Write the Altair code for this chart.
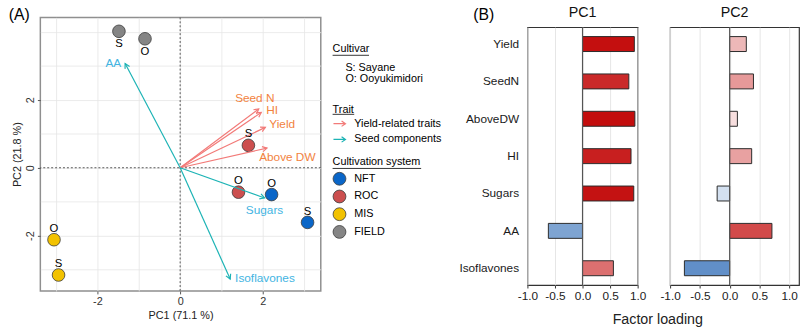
import altair as alt
import pandas as pd

# ---------------- Panel A : PCA biplot ----------------
sample_system = ["FIELD", "FIELD", "ROC", "ROC", "NFT", "NFT", "MIS", "MIS"]
sample_cultivar = ["S", "O", "S", "O", "O", "S", "O", "S"]
sample_pc1 = [-1.48, -0.85, 1.65, 1.41, 2.21, 3.08, -3.05, -2.94]
sample_pc2 = [4.02, 3.80, 0.66, -0.72, -0.79, -1.61, -2.12, -3.16]

trait_names = ["AA", "Seed N", "HI", "Yield", "Above DW", "Sugars", "Isoflavones"]
trait_group = ["Seed components", "Yield-related traits", "Yield-related traits",
               "Yield-related traits", "Yield-related traits", "Seed components",
               "Seed components"]
trait_pc1 = [-1.33, 1.90, 1.96, 2.06, 2.10, 2.04, 1.21]
trait_pc2 = [3.07, 1.73, 1.63, 1.19, 0.58, -0.89, -3.28]

system_order = ["NFT", "ROC", "MIS", "FIELD"]
system_colors = ["#0a66c8", "#cc4f4f", "#f2c200", "#858585"]
group_order = ["Yield-related traits", "Seed components"]
group_colors = ["#f27a78", "#1cb3b5"]

x_ticks_a = [-3, -2, -1, 0, 1, 2, 3]
y_ticks_a = [-3, -2, -1, 0, 1, 2, 3, 4]
labelled_a = [-2, 0, 2]

# ---------------- Panel B : factor loadings ----------------
loading_vars = ["Yield", "SeedN", "AboveDW", "HI", "Sugars", "AA", "Isoflavones"]
loading_pc1 = [0.94, 0.84, 0.95, 0.88, 0.93, -0.62, 0.56]
loading_pc2 = [0.28, 0.40, 0.13, 0.37, -0.21, 0.71, -0.76]
x_ticks_b = [-1.0, -0.5, 0.0, 0.5, 1.0]

FONT = "Liberation Sans"

# ---------- Panel A ----------
XDOM = [-3.38, 3.40]
YDOM = [-3.63, 4.43]
WA, HA = 285, 278
kx = WA / (XDOM[1] - XDOM[0])
ky = HA / (YDOM[1] - YDOM[0])

samples = pd.DataFrame({"system": sample_system, "cultivar": sample_cultivar,
                        "PC1": sample_pc1, "PC2": sample_pc2})
traits = pd.DataFrame({"trait": trait_names, "group": trait_group,
                       "PC1": trait_pc1, "PC2": trait_pc2})
one = alt.Data(values=[{}])

major = "indexof([" + ",".join(str(v) for v in labelled_a) + "], datum.value) >= 0"
lab_expr_int = f"{major} ? (datum.value < 0 ? '-' : '') + format(abs(datum.value), 'd') : ''"
axis_common = dict(domain=False, tickColor="#555555", tickSize=3, tickWidth=1,
                   labelFontSize=11, labelColor="#333333", titleFontSize=11,
                   titleFontWeight="normal", titleColor="#222222",
                   gridColor="#e6e6e6", gridWidth=0.8, labelOverlap=False,
                   tickOpacity={"condition": {"test": major, "value": 1}, "value": 0})

xs = alt.Scale(domain=XDOM, nice=False, zero=False)
ys = alt.Scale(domain=YDOM, nice=False, zero=False)
ax_x = alt.Axis(values=x_ticks_a, labelExpr=lab_expr_int, title="PC1 (71.1 %)",
                labelPadding=2, titlePadding=3, **axis_common)
ax_y = alt.Axis(values=y_ticks_a, labelExpr=lab_expr_int, title="PC2 (21.8 %)",
                labelAngle=270, labelAlign="center", labelBaseline="bottom",
                labelPadding=2, titlePadding=2, **axis_common)
X = alt.X("PC1:Q", scale=xs, axis=ax_x)
Y = alt.Y("PC2:Q", scale=ys, axis=ax_y)

zero_v = alt.Chart(one).mark_rule(color="#555555", strokeDash=[2, 2], strokeWidth=1).encode(
    x=alt.XDatum(0, scale=xs, axis=ax_x))
zero_h = alt.Chart(one).mark_rule(color="#555555", strokeDash=[2, 2], strokeWidth=1).encode(
    y=alt.YDatum(0, scale=ys, axis=ax_y))

trait_legend = alt.Legend(title="Trait", orient="none", legendX=297, legendY=88,
                          symbolType="M-1,0L1,0M0.35,-0.45L1,0L0.35,0.45",
                          symbolSize=150, symbolStrokeWidth=1.2, symbolFillColor="transparent",
                          titleFontSize=11, titleFontWeight="normal", titleColor="black",
                          labelFontSize=11, labelColor="black", titlePadding=2,
                          rowPadding=3, labelOffset=8, padding=0)
gcolor = alt.Color("group:N", scale=alt.Scale(domain=group_order, range=group_colors),
                   legend=trait_legend)

arrows = alt.Chart(traits).mark_rule(strokeWidth=1.2).transform_calculate(
    x0="0", y0="0").encode(
    x=alt.X("x0:Q", scale=xs, axis=ax_x), y=alt.Y("y0:Q", scale=ys, axis=ax_y),
    x2="PC1:Q", y2="PC2:Q", color=gcolor)

heads = alt.Chart(traits).mark_point(
    filled=False, shape="M-0.55,1L0,0L0.55,1", size=90, strokeWidth=1.2, opacity=1
).transform_calculate(
    ang=f"(atan2(datum.PC1*{kx}, datum.PC2*{ky})*180/PI + 360) % 360"
).encode(x=X, y=Y, color=gcolor, angle=alt.Angle("ang:Q", scale=None))

# trait label placement: (align, dx, dy)
placement = {"AA": ("right", -4, 0), "Seed N": ("center", -4, -11), "HI": ("left", 5, -2),
             "Yield": ("left", 4, -3), "Above DW": ("left", -8, 9),
             "Sugars": ("center", 0, 12), "Isoflavones": ("left", 5, -1)}
label_color = alt.condition("datum.group == 'Yield-related traits'",
                            alt.value("#f2823e"), alt.value("#43b4e2"))
trait_labels = []
for name, (al, dx, dy) in placement.items():
    trait_labels.append(
        alt.Chart(traits).transform_filter(alt.datum.trait == name).mark_text(
            align=al, baseline="middle", dx=dx, dy=dy, fontSize=12
        ).encode(x=X, y=Y, text="trait:N", color=label_color))

system_legend = alt.Legend(title="Cultivation system", orient="none", legendX=297, legendY=141,
                           symbolType="circle", symbolSize=170, symbolStrokeColor="#3c3c3c",
                           symbolStrokeWidth=0.8, symbolOpacity=1,
                           titleFontSize=11, titleFontWeight="normal", titleColor="black",
                           labelFontSize=11, labelColor="black", titlePadding=5,
                           rowPadding=0, labelOffset=8, padding=0)
cultivar_legend = alt.Legend(title="Cultivar", orient="none", legendX=297, legendY=26,
                             labelExpr="datum.label == 'S' ? 'S: Sayane' : 'O: Ooyukimidori'",
                             symbolOpacity=0, symbolSize=1, symbolStrokeWidth=0,
                             titleFontSize=11, titleFontWeight="normal", titleColor="black",
                             labelFontSize=11, labelColor="black", titlePadding=9,
                             rowPadding=-2, labelOffset=2, padding=0)
points = alt.Chart(samples).mark_point(
    filled=True, size=165, stroke="#3c3c3c", strokeWidth=0.8, opacity=1
).encode(
    x=X, y=Y,
    fill=alt.Fill("system:N", scale=alt.Scale(domain=system_order, range=system_colors),
                  legend=system_legend),
    shape=alt.Shape("cultivar:N", scale=alt.Scale(domain=["S", "O"], range=["circle", "circle"]),
                    legend=cultivar_legend))

lab_above = alt.Chart(samples).transform_filter(alt.datum.system != "FIELD").mark_text(
    fontSize=11.5, dy=-11, color="black").encode(x=X, y=Y, text="cultivar:N")
lab_below = alt.Chart(samples).transform_filter(alt.datum.system == "FIELD").mark_text(
    fontSize=11.5, dy=13, color="black").encode(x=X, y=Y, text="cultivar:N")

underl = []
for yy, w in [(38.5, 37), (98.5, 22), (153.5, 90)]:
    underl.append(alt.Chart(one).mark_rule(color="black", strokeWidth=0.8).encode(
        x=alt.value(297), x2=alt.value(297 + w), y=alt.value(yy)))

tag_a = alt.Chart(one).mark_text(text="(A)", fontSize=16, align="left", baseline="middle",
                                 color="black").encode(x=alt.value(-32), y=alt.value(-2))
tag_b = alt.Chart(one).mark_text(text="(B)", fontSize=16, align="left", baseline="middle",
                                 color="black").encode(x=alt.value(440), y=alt.value(-2))

panel_a = alt.layer(points, zero_v, zero_h, arrows, heads, lab_above, lab_below,
                    *trait_labels, *underl, tag_a, tag_b).properties(
    width=WA, height=HA, view=alt.ViewBackground(stroke="#8f8f8f", strokeWidth=1.5))

# ---------- Panel B ----------
loads = pd.DataFrame({"var": loading_vars, "PC1": loading_pc1, "PC2": loading_pc2})
lab_expr_b = "(datum.value < 0 ? '-' : '') + format(abs(datum.value), '.1f')"
load_color = alt.Scale(domain=[-1, 0, 1], range=["#2f6cb6", "#ffffff", "#c00000"],
                       interpolate="rgb")


def pc_panel(col, width, xdom, first):
    yax = alt.Axis(title=None, domain=False, ticks=False, tickSize=0, labelPadding=9,
                   labelFontSize=12, labelColor="#1a1a1a", labelLimit=200) if first else None
    xax = alt.Axis(values=x_ticks_b, labelExpr=lab_expr_b, domain=False, tickSize=3,
                   tickColor="#333333", labelFontSize=12, labelColor="#222222", labelPadding=3,
                   grid=True, gridColor="#e6e6e6", labelFlush=False, labelOverlap=False,
                   title="Factor loading" if first else None, titleFontSize=14.5,
                   titleFontWeight="normal", titleColor="#222222", titlePadding=11,
                   titleX=132)
    xsc = alt.Scale(domain=xdom, nice=False, zero=False)
    bars = alt.Chart(loads).mark_bar(stroke="#2a2a2a", strokeWidth=1).encode(
        y=alt.Y("var:N", sort=loading_vars,
                scale=alt.Scale(paddingInner=0.6, paddingOuter=0.25), axis=yax),
        x=alt.X(f"{col}:Q", scale=xsc, axis=xax),
        color=alt.Color(f"{col}:Q", scale=load_color, legend=None))
    zero = alt.Chart(one).mark_rule(color="#555555", strokeWidth=1.2).encode(
        x=alt.XDatum(0, scale=xsc, axis=xax))
    return alt.layer(bars, zero).properties(
        width=width, height=262,
        title=alt.Title(col, fontSize=14.5, fontWeight="normal", color="#111111", offset=6),
        view=alt.ViewBackground(stroke="#333333", strokeWidth=1.2))


pc1_chart = pc_panel("PC1", 112, [-1.0, 1.0], True)
pc2_chart = pc_panel("PC2", 131, [-1.0, 1.165], False)

spacer = alt.Chart(one).mark_point(opacity=0).encode(
    x=alt.value(0), y=alt.value(0)).properties(
    width=10, height=1, view=alt.ViewBackground(strokeOpacity=0))

panel_b_row = alt.hconcat(pc1_chart, pc2_chart, spacing=33, bounds="flush")
panel_b = alt.vconcat(spacer, panel_b_row, spacing=9, bounds="flush")

chart = alt.hconcat(panel_a, panel_b, spacing=210, bounds="flush").properties(
    padding={"left": 8, "top": 2, "right": 0, "bottom": 0}
).configure(font=FONT).configure_text(font=FONT)

chart.save("out.html", embed_options={"renderer": "svg", "actions": False})
